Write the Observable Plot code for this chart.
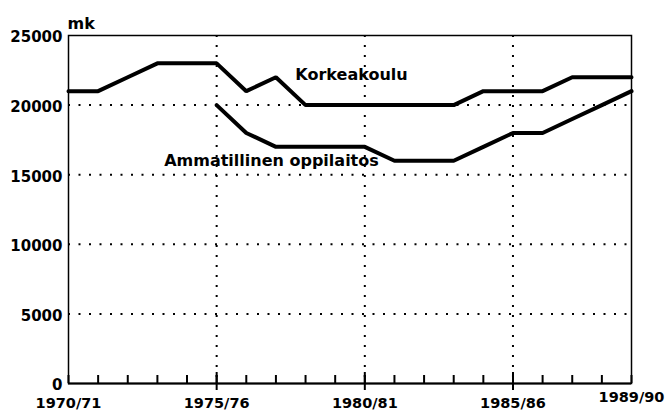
<!DOCTYPE html>
<html><head><meta charset="utf-8">
<script src="https://cdn.jsdelivr.net/npm/d3@7"></script>
<script src="https://cdn.jsdelivr.net/npm/@observablehq/plot@0.6"></script>
<style>body{margin:0;background:#fff}</style>
</head><body><div id="chart"></div>
<script>
const years = [1970,1971,1972,1973,1974,1975,1976,1977,1978,1979,1980,1981,1982,1983,1984,1985,1986,1987,1988,1989];
const korkeakoulu = [21000,21000,22000,23000,23000,23000,21000,22000,20000,20000,20000,20000,20000,20000,21000,21000,21000,22000,22000,22000];
const ammatillinen = [null,null,null,null,null,20000,18000,17000,17000,17000,17000,16000,16000,16000,17000,18000,18000,19000,20000,21000];
const tickYears = [1970,1975,1980,1985];
const tickLabels = ["1970/71","1975/76","1980/81","1985/86"];
const lastTickYear = [1989];
const lastTickLabel = ["1989/90"];
const yTicks = [0,5000,10000,15000,20000,25000];
const gridY = [5000,10000,15000,20000];
const gridX = [1975,1980,1985];
const seriesNames = ["Korkeakoulu","Ammatillinen oppilaitos"];
const labelYears = [1979.55, 1976.85];
const labelValues = [22150, 16000];
const unitLabel = ["mk"];

const rows = years.map((y,i)=>({year:y, k:korkeakoulu[i], a:ammatillinen[i]}));
const labels = seriesNames.map((n,i)=>({name:n, x:labelYears[i], y:labelValues[i]}));
const fmt = d => tickLabels[tickYears.indexOf(d)];

const chart = Plot.plot({
  width: 665, height: 410,
  marginLeft: 68, marginRight: 34, marginTop: 35, marginBottom: 27,
  style: {fontFamily: "DejaVu Sans", fontWeight: "bold", fontSize: "15px", color: "#000", background: "#fff"},
  x: {domain: [1970, 1989]},
  y: {domain: [0, 25000]},
  marks: [
    Plot.ruleY(gridY, {stroke: "#000", strokeWidth: 2, strokeDasharray: "2,8.5"}),
    Plot.ruleX(gridX, {stroke: "#000", strokeWidth: 2, strokeDasharray: "2,8"}),
    Plot.frame({stroke: "#000", strokeWidth: 1.5}),
    Plot.ruleY([yTicks[0]], {stroke: "#000", strokeWidth: 2}),
    Plot.ruleX(years, {stroke: "#000", strokeWidth: 2, insetTop: 340}),
    Plot.ruleX(gridX, {stroke: "#000", strokeWidth: 2, insetTop: 337, insetBottom: -7}),
    Plot.line(rows, {x: "year", y: "k", stroke: "#000", strokeWidth: 4, strokeLinejoin: "miter"}),
    Plot.line(rows, {x: "year", y: "a", stroke: "#000", strokeWidth: 4, strokeLinejoin: "miter"}),
    Plot.text(labels, {x: "x", y: "y", text: "name", fontSize: 16, fontWeight: "bold", fill: "#000", textAnchor: "middle"}),
    Plot.text(unitLabel, {text: d => d, frameAnchor: "top-left", dy: -18, dx: -1, fontSize: 16, fontWeight: "bold", textAnchor: "start", fill: "#000"}),
    Plot.axisY({ticks: yTicks, tickSize: 0, tickPadding: 6, dy: 2, fontSize: 15, fontWeight: "bold", label: null, tickFormat: d => String(d)}),
    Plot.axisX({ticks: tickYears, tickSize: 0, tickPadding: 14, fontSize: 14.5, fontWeight: "bold", label: null, tickFormat: fmt}),
    Plot.axisX({ticks: lastTickYear, tickSize: 0, tickPadding: 8, fontSize: 14.5, fontWeight: "bold", label: null, tickFormat: () => lastTickLabel[0]})
  ]
});
document.getElementById("chart").appendChild(chart);
</script>
</body></html>
